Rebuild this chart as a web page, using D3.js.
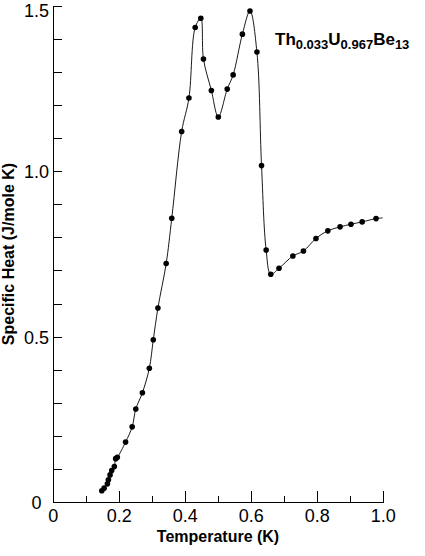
<!DOCTYPE html>
<html>
<head>
<meta charset="utf-8">
<script src="https://cdn.jsdelivr.net/npm/d3@7"></script>
<style>
html,body{margin:0;padding:0;background:#fff;}
svg{display:block;}
</style>
</head>
<body>
<svg id="chart" width="425" height="556"></svg>
<script>
// Temperature (K)
const temperature = [0.147,0.154,0.164,0.167,0.172,0.177,0.185,0.189,0.194,0.219,0.239,0.250,0.270,0.291,0.303,0.317,0.342,0.359,0.389,0.411,0.430,0.447,0.455,0.479,0.500,0.527,0.545,0.573,0.596,0.617,0.631,0.645,0.659,0.684,0.726,0.758,0.796,0.832,0.869,0.902,0.936,0.978];
// Specific heat (J/mole K)
const specificHeat = [0.036,0.044,0.057,0.069,0.084,0.097,0.109,0.133,0.137,0.183,0.229,0.283,0.332,0.406,0.492,0.588,0.722,0.859,1.121,1.222,1.435,1.463,1.340,1.245,1.165,1.249,1.292,1.415,1.485,1.361,1.018,0.763,0.690,0.708,0.745,0.760,0.798,0.821,0.833,0.841,0.848,0.858];
// guide curve continues a little past the last point
const curveEndT = [0.998];
const curveEndC = [0.860];
const xTicks = [0,0.2,0.4,0.6,0.8,1.0];
const xTickLabels = ["0","0.2","0.4","0.6","0.8","1.0"];
const yTicks = [0,0.5,1.0,1.5];
const yTickLabels = ["0","0.5","1.0","1.5"];
const title = "Specific Heat";

const svg = d3.select("#chart");
const x = d3.scaleLinear().domain([0,1]).range([53.3,383.3]);
const y = d3.scaleLinear().domain([0,1.5]).range([502.7,6]);

const tickFont = "'Liberation Sans', Arial, sans-serif";

// axes lines
const g = svg.append("g");
g.append("line").attr("x1",x(0)).attr("x2",x(1)).attr("y1",y(0)).attr("y2",y(0))
  .attr("stroke","#000").attr("stroke-width",1).attr("shape-rendering","crispEdges");
g.append("line").attr("x1",x(0)).attr("x2",x(0)).attr("y1",y(0)).attr("y2",y(1.5))
  .attr("stroke","#000").attr("stroke-width",1).attr("shape-rendering","crispEdges");

// x ticks (inward), major every 0.2, minor every 0.1
const xMinor = d3.range(1,11).map(i=>i/10);
g.selectAll(".xt").data(xMinor).enter().append("line")
  .attr("x1",d=>x(d)).attr("x2",d=>x(d))
  .attr("y1",y(0))
  .attr("y2",d=>y(0) - (Math.round(d*10)%2===0 ? 12 : 7))
  .attr("stroke","#000").attr("stroke-width",1).attr("shape-rendering","crispEdges");

// y ticks every 0.1 inward
const yMinor = d3.range(1,16).map(i=>i/10);
g.selectAll(".yt").data(yMinor).enter().append("line")
  .attr("x1",x(0)).attr("x2",x(0)+9)
  .attr("y1",d=>y(d)).attr("y2",d=>y(d))
  .attr("stroke","#000").attr("stroke-width",1).attr("shape-rendering","crispEdges");

// tick labels
g.selectAll(".xl").data(xTicks).enter().append("text")
  .attr("x",d=>x(d)).attr("y",521.5)
  .attr("text-anchor","middle")
  .attr("font-family",tickFont).attr("font-size",18)
  .text((d,i)=>xTickLabels[i]);
g.selectAll(".yl").data(yTicks).enter().append("text")
  .attr("x",36.5).attr("y",d=>Math.max(y(d) + 6.5, 16.6))
  .attr("text-anchor","middle")
  .attr("font-family",tickFont).attr("font-size",18)
  .text((d,i)=>yTickLabels[i]);

// axis titles
svg.append("text").attr("x",218).attr("y",542)
  .attr("text-anchor","middle").attr("font-family",tickFont)
  .attr("font-weight","bold").attr("font-size",16)
  .text("Temperature (K)");
svg.append("text")
  .attr("transform","translate(14,254) rotate(-90)")
  .attr("text-anchor","middle").attr("font-family",tickFont)
  .attr("font-weight","bold").attr("font-size",16)
  .text(title + " (J/mole K)");

// compound label
const lab = svg.append("text").attr("x",275).attr("y",45)
  .attr("font-family",tickFont).attr("font-weight","bold").attr("font-size",17);
const parts = [["Th",false],["0.033",true],["U",false],["0.967",true],["Be",false],["13",true]];
parts.forEach(([t,sub])=>{
  lab.append("tspan").attr("font-size",sub?13:17)
    .attr("dy",sub?3.5:-3.5).text(t);
});
lab.select("tspan").attr("dy",0);

// curve
const pts = temperature.map((t,i)=>[t,specificHeat[i]]);
const curvePts = pts.concat(curveEndT.map((t,i)=>[t,curveEndC[i]]));
const line = d3.line().x(d=>x(d[0])).y(d=>y(d[1])).curve(d3.curveCatmullRom.alpha(0.5));
svg.append("path").datum(curvePts).attr("d",line)
  .attr("fill","none").attr("stroke","#000").attr("stroke-width",0.9);

// points
svg.selectAll(".pt").data(pts).enter().append("circle")
  .attr("cx",d=>x(d[0])).attr("cy",d=>y(d[1])).attr("r",2.8)
  .attr("fill","#000");
</script>
</body>
</html>
